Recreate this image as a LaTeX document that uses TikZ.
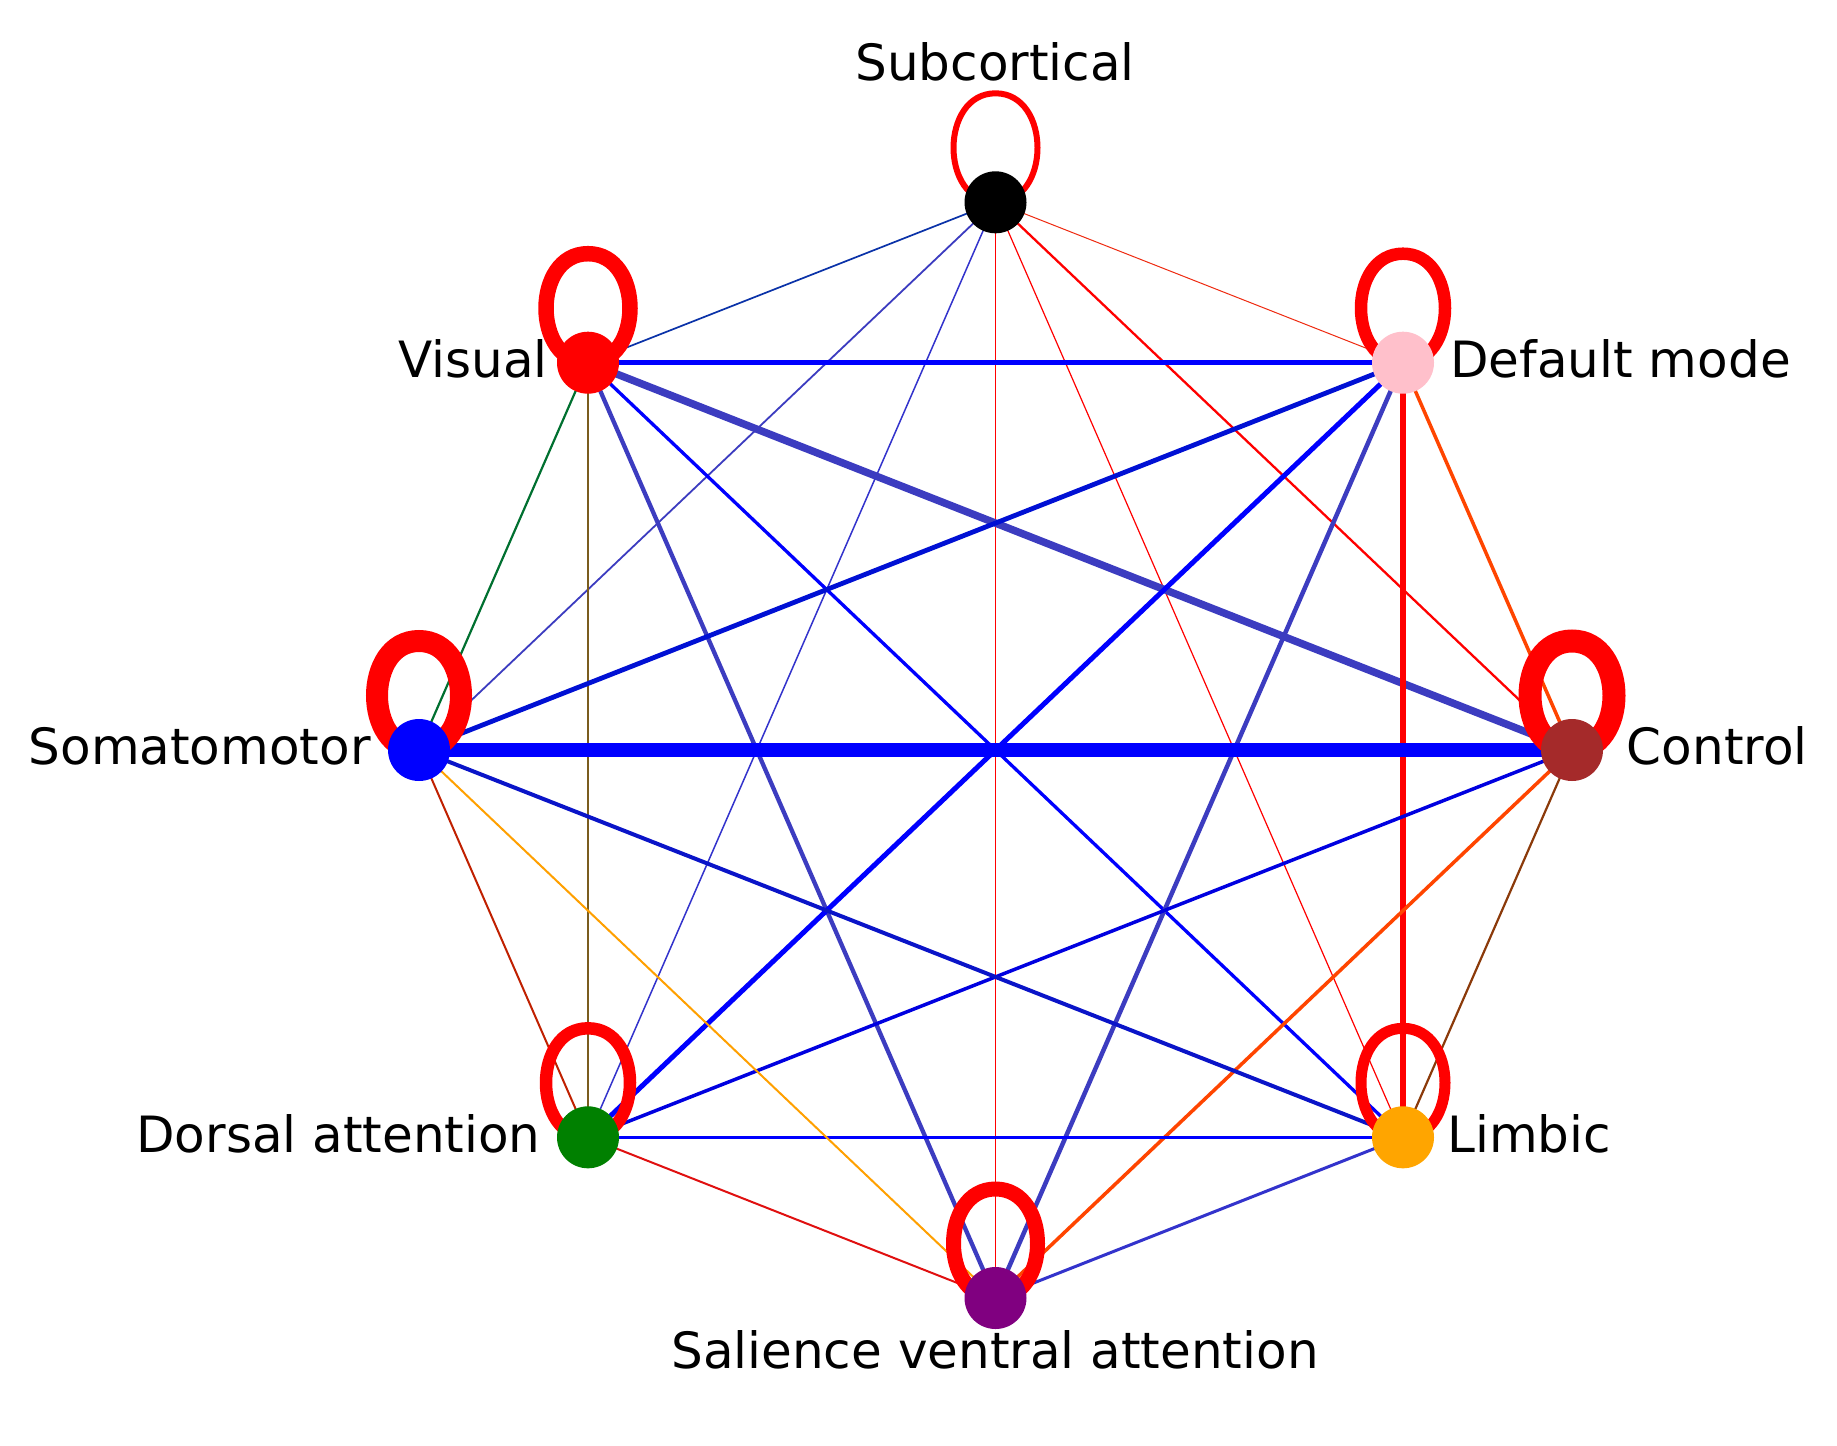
\documentclass[tikz,border=0pt]{standalone}
\usepackage{fontspec}
\setmainfont{DejaVu Sans}
\definecolor{cSlate}{RGB}{60,60,192}
\definecolor{cSlateB}{RGB}{51,51,204}
\definecolor{cSV}{RGB}{10,50,168}
\definecolor{cBlueB}{RGB}{0,16,212}
\definecolor{cBlueC}{RGB}{0,0,224}
\definecolor{cBlueD}{RGB}{10,20,200}
\definecolor{cOlive}{RGB}{122,92,30}
\definecolor{cGreenE}{RGB}{0,112,48}
\definecolor{cOrRed}{RGB}{255,69,0}
\definecolor{cOrange}{RGB}{255,160,0}
\definecolor{cBrownE}{RGB}{139,58,10}
\definecolor{cRedBr}{RGB}{192,32,0}
\definecolor{cRedD}{RGB}{224,16,16}
\definecolor{cRedThin}{RGB}{238,42,16}
\definecolor{cPink}{RGB}{255,192,203}
\definecolor{cBrownN}{RGB}{165,42,42}
\definecolor{cOrangeN}{RGB}{255,165,0}
\definecolor{cPurple}{RGB}{128,0,128}
\definecolor{cGreenN}{RGB}{0,128,0}
\pgfdeclarelayer{bg}
\pgfdeclarelayer{edges}
\pgfsetlayers{bg,edges,main}
\newcommand{\mkloop}[2]{%
  \draw[selfloop, line width=#2]
    ([shift={(0,-109)}]#1.center)
    .. controls ([shift={(56,-109)}]#1.center) and ([shift={(56,0)}]#1.center) .. (#1.center)
    .. controls ([shift={(-56,0)}]#1.center) and ([shift={(-56,-109)}]#1.center) .. ([shift={(0,-109)}]#1.center)
    -- cycle;}
\begin{document}
\begin{tikzpicture}[x=0.5pt,y=-0.5pt,
  net/.style={circle, inner sep=0pt, minimum size=31pt, draw=none},
  lbl/.style={inner sep=0pt, font=\fontsize{25pt}{30pt}\selectfont},
  conn/.style={line cap=butt},
  selfloop/.style={draw=red}
]
\begin{pgfonlayer}{bg}
\path[use as bounding box, fill=white] (0,0) rectangle (1837,1446);
\end{pgfonlayer}
% nodes
\node[net, fill=black]    (S)  at (995.5,202.3) {};
\node[net, fill=cPink]    (D)  at (1403,362.7) {};
\node[net, fill=cBrownN]  (C)  at (1572,750) {};
\node[net, fill=cOrangeN] (L)  at (1403,1137.3) {};
\node[net, fill=cPurple]  (Sa) at (995.5,1298) {};
\node[net, fill=cGreenN]  (Da) at (588,1137.3) {};
\node[net, fill=blue]     (Sm) at (419,750) {};
\node[net, fill=red]      (V)  at (588,362.7) {};
% labels
\node[lbl, anchor=base]      (tS)  at (995,80.7)  {Subcortical};
\node[lbl, anchor=base east] (tV)  at (548,377)   {Visual};
\node[lbl, anchor=base west] (tD)  at (1450,377.5) {Default mode};
\node[lbl, anchor=base east] (tSm) at (371,764.5) {Somatomotor};
\node[lbl, anchor=base west] (tC)  at (1626.5,764.5) {Control};
\node[lbl, anchor=base east] (tDa) at (541,1152.7) {Dorsal attention};
\node[lbl, anchor=base west] (tL)  at (1447,1152.7) {Limbic};
\node[lbl, anchor=base]      (tSa) at (995,1368.3) {Salience ventral attention};
\begin{pgfonlayer}{edges}
% edges from Subcortical
\draw[conn, draw=cSV,      line width=0.85pt] (S.center) -- (V.center);
\draw[conn, draw=cSlate,   line width=0.9pt]  (S.center) -- (Sm.center);
\draw[conn, draw=cSlateB,  line width=0.75pt] (S.center) -- (Da.center);
\draw[conn, draw=red,      line width=0.85pt] (S.center) -- (Sa.center);
\draw[conn, draw=red,      line width=0.6pt]  (S.center) -- (L.center);
\draw[conn, draw=red,      line width=1.15pt] (S.center) -- (C.center);
\draw[conn, draw=cRedThin, line width=0.5pt]  (S.center) -- (D.center);
% Visual
\draw[conn, draw=blue,     line width=2.5pt]  (V.center) -- (D.center);
\draw[conn, draw=cSlate,   line width=3.75pt] (V.center) -- (C.center);
\draw[conn, draw=blue,     line width=1.65pt] (V.center) -- (L.center);
\draw[conn, draw=cSlate,   line width=2.15pt] (V.center) -- (Sa.center);
\draw[conn, draw=cOlive,   line width=0.85pt] (V.center) -- (Da.center);
\draw[conn, draw=cGreenE,  line width=1.1pt]  (V.center) -- (Sm.center);
% Default mode
\draw[conn, draw=cBlueB,   line width=2.4pt]  (D.center) -- (Sm.center);
\draw[conn, draw=blue,     line width=2.5pt]  (D.center) -- (Da.center);
\draw[conn, draw=cSlate,   line width=2.25pt] (D.center) -- (Sa.center);
\draw[conn, draw=red,      line width=3.25pt] (D.center) -- (L.center);
\draw[conn, draw=cOrRed,   line width=1.75pt] (D.center) -- (C.center);
% Control
\draw[conn, draw=blue,     line width=6.75pt] (C.center) -- (Sm.center);
\draw[conn, draw=cBlueC,   line width=1.75pt] (C.center) -- (Da.center);
\draw[conn, draw=cOrRed,   line width=1.75pt] (C.center) -- (Sa.center);
\draw[conn, draw=cBrownE,  line width=1.1pt]  (C.center) -- (L.center);
% Limbic
\draw[conn, draw=cBlueD,   line width=2pt]    (L.center) -- (Sm.center);
\draw[conn, draw=blue,     line width=1.25pt] (L.center) -- (Da.center);
\draw[conn, draw=cSlateB,  line width=1.5pt]  (L.center) -- (Sa.center);
% Salience
\draw[conn, draw=cRedD,    line width=1pt]    (Sa.center) -- (Da.center);
\draw[conn, draw=cOrange,  line width=1pt]    (Sa.center) -- (Sm.center);
% Dorsal attention
\draw[conn, draw=cRedBr,   line width=1pt]    (Da.center) -- (Sm.center);
% self loops
\mkloop{S}{3pt}
\mkloop{V}{7.75pt}
\mkloop{D}{6.25pt}
\mkloop{Sm}{11pt}
\mkloop{C}{11.5pt}
\mkloop{Da}{6.25pt}
\mkloop{L}{5.5pt}
\mkloop{Sa}{7.5pt}
\end{pgfonlayer}
\end{tikzpicture}
\end{document}
